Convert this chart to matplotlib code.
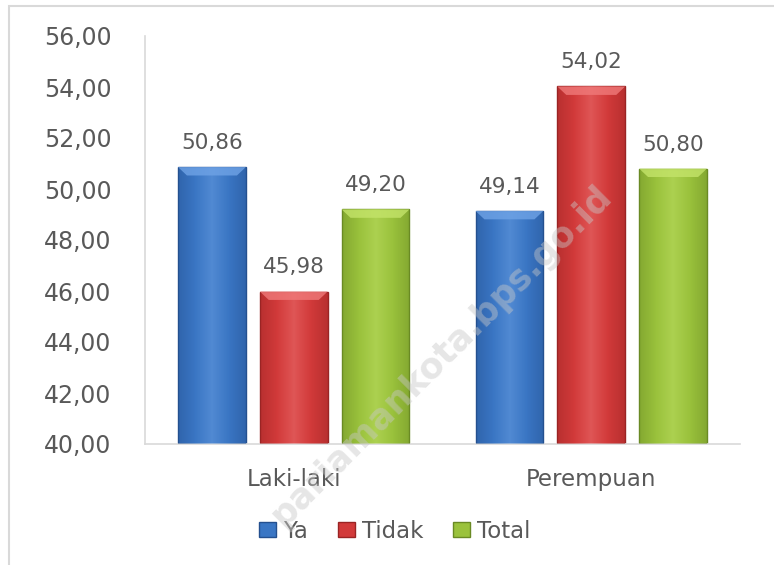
import matplotlib
matplotlib.use("Agg")
import matplotlib.pyplot as plt
import numpy as np
from matplotlib.patches import Rectangle, Polygon
from matplotlib.colors import LinearSegmentedColormap

categories = ["Laki-laki", "Perempuan"]
series_names = ["Ya", "Tidak", "Total"]
ya = [50.86, 49.14]
tidak = [45.98, 54.02]
total = [49.20, 50.80]
yticks = [40, 42, 44, 46, 48, 50, 52, 54, 56]

colors = ["#3A76C4", "#D23A3A", "#9AC23C"]
dark = ["#24508F", "#9A2424", "#6A8A24"]
light = ["#6FA3E6", "#F07A7A", "#C4E46A"]

plt.rcParams['font.family'] = ['DejaVu Sans']
fig = plt.figure(figsize=(7.74, 5.65), dpi=100)
ax = fig.add_axes([145/774, 1 - 444/565, (740-145)/774, (444-36)/565])

x = np.arange(len(categories))
width = 0.228
offset = 0.275
ymin = 40

def fmt(v):
    return f"{v:.2f}".replace(".", ",")

for i, (name, vals) in enumerate(zip(series_names, [ya, tidak, total])):
    pos = x + (i - 1) * offset
    bars = ax.bar(pos, np.array(vals) - ymin, width, bottom=ymin,
                  color=colors[i], edgecolor=dark[i], linewidth=1.0,
                  label=name, zorder=2)
    cmap = LinearSegmentedColormap.from_list(
        "g", [dark[i], colors[i], light[i], colors[i], dark[i]])
    grad = np.linspace(0, 1, 64).reshape(1, -1)
    for b, v in zip(bars, vals):
        x0 = b.get_x(); w = b.get_width()
        im = ax.imshow(grad, cmap=cmap, aspect="auto",
                       extent=[x0, x0 + w, ymin, v], zorder=3, alpha=0.45)
        im.set_clip_path(b)
        bev = 0.33
        poly = Polygon([[x0, v], [x0 + w, v], [x0 + w - 0.03, v - bev],
                        [x0 + 0.03, v - bev]], closed=True,
                       facecolor=light[i], edgecolor="none", alpha=0.8, zorder=4)
        ax.add_patch(poly)
        ax.text(x0 + w / 2, v + 0.55, fmt(v), ha="center", va="bottom",
                fontsize=15.5, color="#595959", zorder=5)

ax.set_xlim(-0.5, 1.5)
ax.set_ylim(40, 56)
ax.set_yticks(yticks)
ax.set_yticklabels([fmt(t) for t in yticks], fontsize=17, color="#595959")
ax.set_xticks(x)
ax.set_xticklabels(categories, fontsize=16.5, color="#595959")
ax.tick_params(axis="both", length=0)
ax.tick_params(axis="y", pad=24)
ax.tick_params(axis="x", pad=17)
for s in ["top", "right"]:
    ax.spines[s].set_visible(False)
for s in ["left", "bottom"]:
    ax.spines[s].set_color("#D9D9D9")
    ax.spines[s].set_linewidth(1.2)

leg = ax.legend(loc="upper center", bbox_to_anchor=(0.42, -0.135), ncol=3,
                frameon=False, fontsize=16.5, handlelength=0.75, handleheight=0.6,
                handletextpad=0.3, columnspacing=1.3, labelcolor="#595959")

fig.patches.append(Rectangle((9/774, -0.05), 1.0, 1 - 6/565 + 0.05,
                             transform=fig.transFigure, fill=False,
                             edgecolor="#D9D9D9", linewidth=1.5))

fig.text(0.57, 0.37, "pariamankota.bps.go.id", rotation=45, fontsize=25,
         color="#C8C8C8", alpha=0.45, ha="center", va="center",
         fontweight="semibold", zorder=10)

fig.savefig("out.png", dpi=100)
